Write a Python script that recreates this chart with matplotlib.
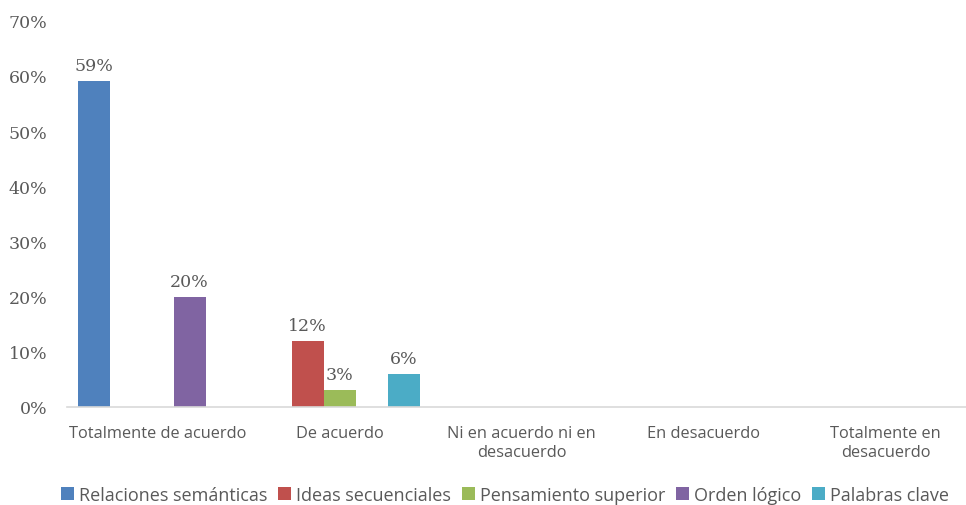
import numpy as np
import matplotlib.pyplot as plt

# datos
categorias = ["Totalmente de acuerdo", "De acuerdo", "Ni en acuerdo ni en\ndesacuerdo",
              "En desacuerdo", "Totalmente en\ndesacuerdo"]
series = ["Relaciones semánticas", "Ideas secuenciales", "Pensamiento superior",
          "Orden lógico", "Palabras clave"]
relaciones = [59, 0, 0, 0, 0]
ideas = [0, 12, 0, 0, 0]
pensamiento = [0, 3, 0, 0, 0]
orden = [20, 0, 0, 0, 0]
palabras = [0, 6, 0, 0, 0]
valores = [relaciones, ideas, pensamiento, orden, palabras]
colores = ["#4F81BD", "#C0504D", "#9BBB59", "#8064A2", "#4BACC6"]

gris = "#595959"
fig = plt.figure(figsize=(9.66, 5.06), dpi=100)
ax = fig.add_axes([0.069, 0.194, 0.942, 0.763])

x = np.arange(len(categorias))
w = 0.176
for i, (nombre, vals, c) in enumerate(zip(series, valores, colores)):
    pos = x + (i - 2) * w
    bars = ax.bar(pos, vals, w, color=c, label=nombre)
    for b, v in zip(bars, vals):
        if v > 0:
            ax.annotate(f"{v}%", (b.get_x() + w / 2, v), xytext=(0, 5),
                        textcoords="offset points", ha="center", va="bottom",
                        fontsize=12.5, color=gris, family="DejaVu Serif")

ax.set_xlim(-0.5, 4.5)
ax.set_ylim(0, 70)
ax.set_yticks(range(0, 71, 10))
ax.set_yticklabels([f"{t}%" for t in range(0, 71, 10)], family="DejaVu Serif",
                   fontsize=12.5, color=gris)
ax.set_xticks(x)
ax.set_xticklabels(categorias, fontsize=11.8, color=gris, family="Open Sans",
                   linespacing=1.25)
ax.tick_params(axis="y", length=0, pad=14)
ax.tick_params(axis="x", length=0, pad=13)
for s in ["top", "right", "left"]:
    ax.spines[s].set_visible(False)
ax.spines["bottom"].set_color("#D9D9D9")
ax.spines["bottom"].set_linewidth(1.2)

leg = fig.legend(loc="lower center", bbox_to_anchor=(0.523, -0.03), ncol=5,
                 frameon=False, handlelength=0.7, handleheight=0.7,
                 handletextpad=0.3, columnspacing=0.6,
                 prop={"family": "Open Sans", "size": 13})
for t in leg.get_texts():
    t.set_color(gris)

fig.savefig("out.png", dpi=100)
